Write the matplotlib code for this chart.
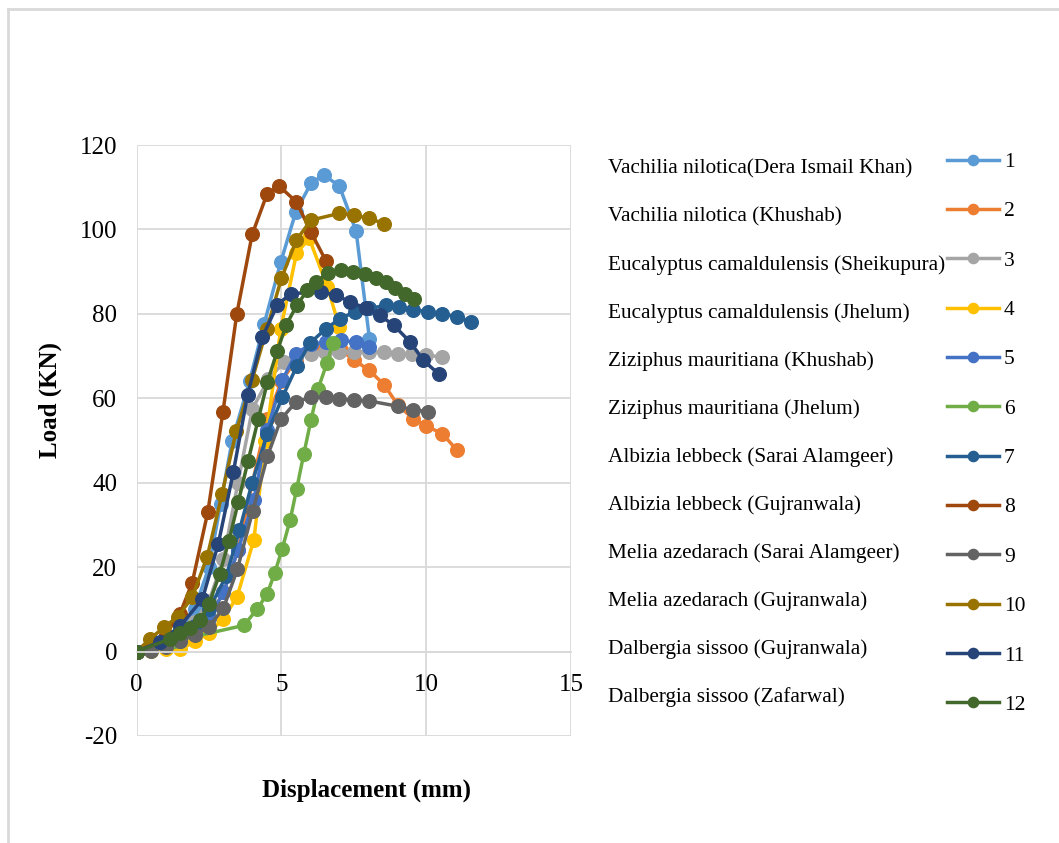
import matplotlib.pyplot as plt
from matplotlib.lines import Line2D

# --- Data ---
SPECIES = [
    'Vachilia nilotica(Dera Ismail Khan)',
    'Vachilia nilotica (Khushab)',
    'Eucalyptus camaldulensis (Sheikupura)',
    'Eucalyptus camaldulensis (Jhelum)',
    'Ziziphus mauritiana (Khushab)',
    'Ziziphus mauritiana (Jhelum)',
    'Albizia lebbeck (Sarai Alamgeer)',
    'Albizia lebbeck (Gujranwala)',
    'Melia azedarach (Sarai Alamgeer)',
    'Melia azedarach (Gujranwala)',
    'Dalbergia sissoo (Gujranwala)',
    'Dalbergia sissoo (Zafarwal)',
]
SERIES_LABELS = [str(i) for i in range(1, 13)]

x1 = [0, 0.5, 1.0, 1.5, 2.0, 2.5, 2.9, 3.3, 3.9, 4.4, 4.98, 5.5, 6.02, 6.46, 7.0, 7.58, 8.04]
y1 = [0, 1, 2.5, 5, 10, 20, 35, 50, 64, 77.5, 92.3, 104.2, 110.9, 112.9, 110.3, 99.6, 74.1]

x2 = [0, 0.5, 1.0, 1.5, 2.0, 2.5, 3.0, 3.5, 4.0, 4.5, 5.0, 5.5, 6.0, 6.5, 7.06, 7.52, 8.04,
      8.56, 9.03, 9.55, 10.01, 10.56, 11.05]
y2 = [0, 0.5, 1.5, 3, 5, 8, 14, 24, 40, 55, 64, 69, 71.5, 72, 71.4, 69, 66.6,
      63.1, 58.3, 55.2, 53.4, 51.6, 47.8]

x3 = [0, 0.5, 1.0, 1.5, 2.0, 2.5, 3.0, 3.5, 4.0, 4.55, 5.09, 5.52, 6.02, 6.5, 7.0, 7.52, 8.04,
      8.56, 9.03, 9.5, 10.01, 10.53]
y3 = [0, 0.3, 1.5, 3.5, 7, 12, 22, 40, 57.5, 64.5, 68.6, 69.8, 70.6, 71, 71, 71, 71,
      71, 70.6, 70.6, 70.2, 69.8]

x4 = [0, 0.5, 1.0, 1.5, 2.02, 2.5, 3.0, 3.47, 4.05, 4.45, 4.98, 5.52, 5.96, 6.59, 7.0]
y4 = [0, 0.2, 0.5, 0.5, 2.4, 4.5, 7.8, 13, 26.5, 50, 76.5, 94.3, 97.9, 86.4, 76.9]

x5 = [0, 0.5, 1.0, 1.5, 2.0, 2.5, 3.0, 3.5, 4.05, 4.51, 5.03, 5.5, 6.02, 6.54, 7.06, 7.58, 8.04]
y5 = [0, 0.5, 1.5, 2.5, 4.5, 8, 14, 24, 36, 52.6, 64.3, 70.6, 72.8, 73.3, 73.7, 73.3, 72.2]

x6 = [0, 1.3, 3.7, 4.17, 4.51, 4.77, 5.03, 5.3, 5.53, 5.77, 6.02, 6.27, 6.57, 6.77]
y6 = [0, 2.5, 6.2, 10.1, 13.7, 18.6, 24.4, 31.1, 38.6, 46.7, 54.8, 62.3, 68.3, 73]

x7 = [0, 0.5, 1.0, 1.5, 2.0, 2.5, 3.1, 3.55, 3.99, 4.51, 5.03, 5.53, 5.99, 6.54, 7.03, 7.55,
      8.04, 8.6, 9.05, 9.55, 10.05, 10.53, 11.07, 11.56]
y7 = [0, 0.8, 2.0, 3.5, 6, 10, 18, 28.7, 40, 51.6, 60.2, 67.6, 73.1, 76.5, 78.9, 80.5,
      81.3, 82, 81.6, 81, 80.5, 80, 79.3, 78.1]

x8 = [0, 0.5, 1.0, 1.5, 1.92, 2.46, 2.98, 3.46, 3.99, 4.51, 4.92, 5.52, 6.02, 6.54]
y8 = [0, 1.5, 4, 9, 16.3, 33.1, 56.7, 80, 98.8, 108.5, 110.3, 106.5, 99.4, 92.5]

x9 = [0, 0.5, 1.0, 1.5, 2.0, 2.49, 3.0, 3.48, 4.01, 4.52, 4.98, 5.51, 6.02, 6.54, 7.0, 7.52,
      8.01, 9.03, 9.55, 10.07]
y9 = [0, 0.2, 1.2, 2.5, 4, 5.8, 10.3, 19.5, 33.3, 46.3, 55, 59.2, 60.2, 60.2, 59.9, 59.5,
      59.4, 58.1, 57.3, 56.8]

x10 = [0, 0.45, 0.95, 1.43, 1.92, 2.44, 2.95, 3.44, 3.99, 4.5, 5.0, 5.52, 6.02, 7.0, 7.52,
       8.01, 8.56]
y10 = [0, 2.9, 5.8, 8.3, 12.9, 22.5, 37.4, 52.2, 64.4, 76.5, 88.4, 97.5, 102.2, 103.8, 103.4,
       102.6, 101.4]

x11 = [0, 0.8, 1.5, 2.27, 2.82, 3.34, 3.83, 4.34, 4.86, 5.32, 6.36, 6.89, 7.38, 7.93, 8.39,
       8.88, 9.45, 9.9, 10.44]
y11 = [0, 2.3, 6, 12.4, 25.5, 42.5, 60.7, 74.5, 82.1, 84.8, 85.2, 84.4, 82.8, 81.3, 79.7,
       77.3, 73.3, 69, 65.7]

x12 = [0, 1.16, 1.5, 1.85, 2.2, 2.5, 2.87, 3.19, 3.51, 3.85, 4.2, 4.52, 4.86, 5.17, 5.53, 5.9,
       6.19, 6.6, 7.06, 7.47, 7.87, 8.27, 8.62, 8.93, 9.26, 9.58]
y12 = [0, 3, 4.3, 5.6, 7.5, 11.3, 18.4, 26.3, 35.4, 45.2, 55, 63.9, 71.3, 77.4, 82, 85.6,
       87.6, 89.6, 90.3, 89.9, 89.4, 88.6, 87.6, 86.2, 84.8, 83.6]

X_DATA = [x1, x2, x3, x4, x5, x6, x7, x8, x9, x10, x11, x12]
Y_DATA = [y1, y2, y3, y4, y5, y6, y7, y8, y9, y10, y11, y12]

# Excel office palette (plain + darker variants)
COLORS = ['#5B9BD5', '#ED7D31', '#A5A5A5', '#FFC000', '#4472C4', '#70AD47',
          '#255E91', '#9E480E', '#636363', '#997300', '#264478', '#43682B']

GRID = '#D9D9D9'
SERIF = 'Liberation Serif'
W, H = 1059, 843

plt.rcParams['font.family'] = SERIF
plt.rcParams['axes.unicode_minus'] = False

fig = plt.figure(figsize=(W / 100, H / 100), dpi=100)
ax = fig.add_axes([136.6 / W, 1 - 736 / H, (571 - 136.6) / W, (736 - 145) / H])

for xs, ys, col, lab in zip(X_DATA, Y_DATA, COLORS, SERIES_LABELS):
    ax.plot(xs, ys, color=col, lw=2.5, marker='o', markersize=9.8, label=lab)

ax.set_xlim(0, 15)
ax.set_ylim(-20, 120)
ax.set_xticks([0, 5, 10, 15])
ax.set_yticks(range(-20, 121, 20))
ax.grid(True, color=GRID, lw=1.3)
ax.set_axisbelow(True)
for side in ['top', 'right', 'left']:
    ax.spines[side].set_visible(False)
ax.spines['bottom'].set_position(('data', 0))
ax.spines['bottom'].set_color(GRID)
ax.spines['bottom'].set_linewidth(1.3)
ax.tick_params(axis='both', length=0, labelsize=18)
ax.tick_params(axis='x', pad=16)
ax.tick_params(axis='y', pad=14)

# axis titles
fig.text(367 / W, 1 - 790 / H, 'Displacement (mm)', fontsize=18, fontweight='bold',
         ha='center', va='center')
fig.text(50 / W, 1 - 400 / H, 'Load (KN)', fontsize=18, fontweight='bold',
         rotation=90, ha='center', va='center')

# legend with series numbers
ax.legend(loc='upper left', bbox_to_anchor=(947 / W, 1 - 152 / H),
          bbox_transform=fig.transFigure, frameon=False, fontsize=15.5,
          handlelength=2.4, handletextpad=0.25, labelspacing=1.36,
          borderpad=0, borderaxespad=0, markerscale=0.75)

# species names beside the legend
for i, name in enumerate(SPECIES):
    fig.text(608 / W, 1 - (169 + 48 * i) / H, name, fontsize=15.3,
             ha='left', va='center')

# chart area border (left and top edges visible)
fig.add_artist(Line2D([8 / W, 8 / W], [0, 1 - 9 / H], color=GRID, lw=2))
fig.add_artist(Line2D([8 / W, 1], [1 - 9 / H, 1 - 9 / H], color=GRID, lw=2))

plt.savefig('out.png', dpi=100)
plt.close()
